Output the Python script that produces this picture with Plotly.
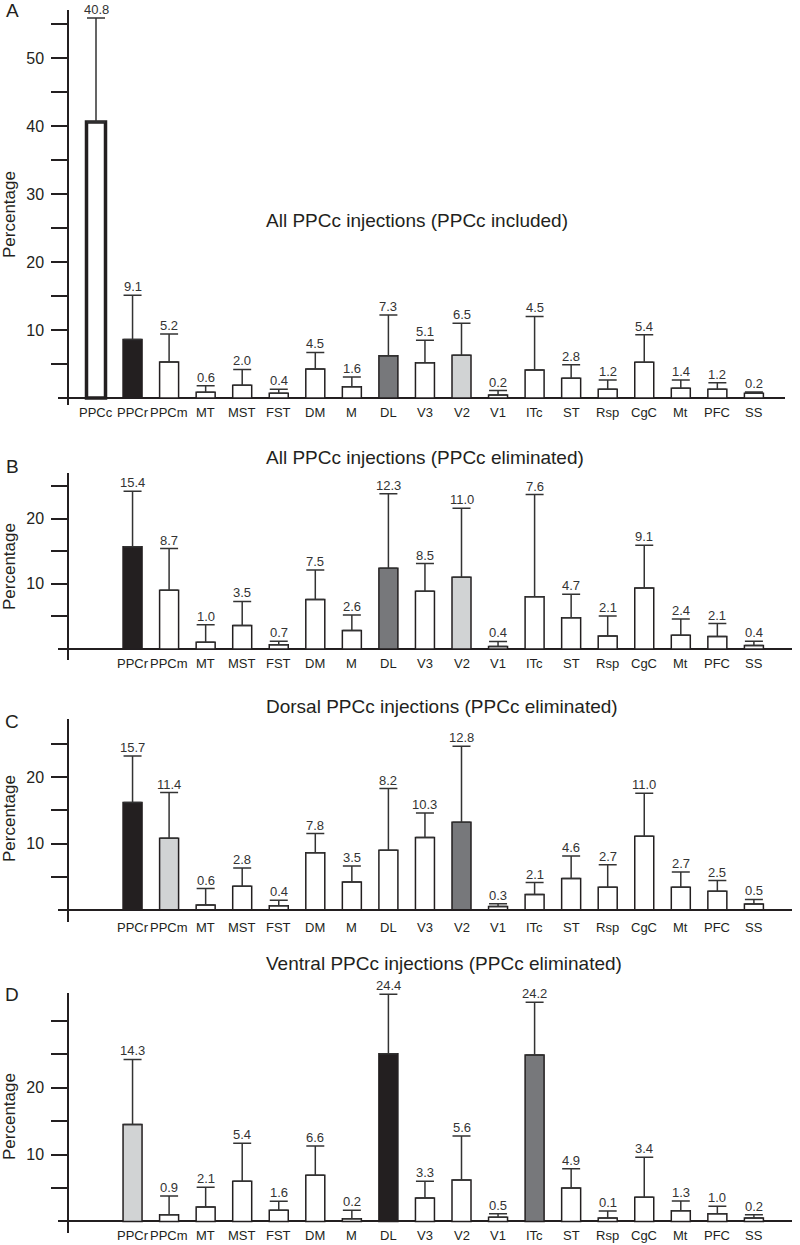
import plotly.graph_objects as go

# ---------------- data ----------------
regions_all = ["PPCc", "PPCr", "PPCm", "MT", "MST", "FST", "DM", "M", "DL", "V3",
               "V2", "V1", "ITc", "ST", "Rsp", "CgC", "Mt", "PFC", "SS"]
regions_elim = regions_all[1:]

# Panel A: All PPCc injections (PPCc included)
a_mean = [40.6, 8.6, 5.3, 0.84, 1.87, 0.7, 4.26, 1.66, 6.2, 5.2, 6.3, 0.45, 4.1, 2.9, 1.3, 5.25, 1.43, 1.3, 0.7]
a_err = [55.9, 15.1, 9.4, 1.8, 4.2, 1.3, 6.7, 3.1, 12.2, 8.5, 11.0, 1.1, 12.0, 4.9, 2.65, 9.3, 2.65, 2.25, 0.9]
a_labels = ["40.8", "9.1", "5.2", "0.6", "2.0", "0.4", "4.5", "1.6", "7.3", "5.1", "6.5", "0.2", "4.5", "2.8", "1.2", "5.4", "1.4", "1.2", "0.2"]

# Panel B: All PPCc injections (PPCc eliminated)
b_mean = [15.7, 9.0, 1.05, 3.6, 0.65, 7.6, 2.85, 12.4, 8.85, 11.0, 0.4, 8.0, 4.8, 2.0, 9.35, 2.1, 1.9, 0.55]
b_err = [24.2, 15.4, 3.7, 7.3, 1.2, 12.1, 5.2, 23.8, 13.1, 21.6, 1.15, 23.7, 8.4, 5.05, 15.9, 4.6, 3.9, 1.2]
b_labels = ["15.4", "8.7", "1.0", "3.5", "0.7", "7.5", "2.6", "12.3", "8.5", "11.0", "0.4", "7.6", "4.7", "2.1", "9.1", "2.4", "2.1", "0.4"]

# Panel C: Dorsal PPCc injections (PPCc eliminated)
c_mean = [16.2, 10.8, 0.7, 3.55, 0.6, 8.6, 4.2, 9.0, 10.9, 13.2, 0.5, 2.3, 4.7, 3.4, 11.1, 3.4, 2.8, 0.85]
c_err = [23.2, 17.7, 3.2, 6.3, 1.45, 11.5, 6.6, 18.3, 14.6, 24.7, 0.9, 4.1, 8.1, 6.8, 17.6, 5.7, 4.4, 1.55]
c_labels = ["15.7", "11.4", "0.6", "2.8", "0.4", "7.8", "3.5", "8.2", "10.3", "12.8", "0.3", "2.1", "4.6", "2.7", "11.0", "2.7", "2.5", "0.5"]

# Panel D: Ventral PPCc injections (PPCc eliminated)
d_mean = [14.5, 1.0, 2.15, 6.0, 1.65, 6.9, 0.4, 25.1, 3.5, 6.2, 0.6, 24.9, 5.0, 0.5, 3.6, 1.6, 1.15, 0.5]
d_err = [24.25, 3.8, 5.1, 11.7, 3.0, 11.3, 1.65, 34.0, 6.0, 12.8, 1.15, 32.8, 7.9, 1.55, 9.6, 3.05, 2.25, 1.0]
d_labels = ["14.3", "0.9", "2.1", "5.4", "1.6", "6.6", "0.2", "24.4", "3.3", "5.6", "0.5", "24.2", "4.9", "0.1", "3.4", "1.3", "1.0", "0.2"]

titles = ["All PPCc injections (PPCc included)",
          "All PPCc injections (PPCc eliminated)",
          "Dorsal PPCc injections (PPCc eliminated)",
          "Ventral PPCc injections (PPCc eliminated)"]
letters = ["A", "B", "C", "D"]

# ---------------- styles ----------------
FILL = {"w": "#ffffff", "k": "#231f20", "d": "#77787b", "l": "#d1d3d4"}
a_fill = ["w", "k", "w", "w", "w", "w", "w", "w", "d", "w", "l", "w", "w", "w", "w", "w", "w", "w", "w"]
b_fill = ["k", "w", "w", "w", "w", "w", "w", "d", "w", "l", "w", "w", "w", "w", "w", "w", "w", "w"]
c_fill = ["k", "l", "w", "w", "w", "w", "w", "w", "w", "d", "w", "w", "w", "w", "w", "w", "w", "w"]
d_fill = ["l", "w", "w", "w", "w", "w", "w", "k", "w", "w", "w", "d", "w", "w", "w", "w", "w", "w"]

INK = "#231f20"
FONT = "Liberation Sans, Arial, Helvetica, sans-serif"
W, H = 800, 1245


def fx(px):
    """page pixel x -> paper fraction"""
    return px / W


def fy(px):
    """page pixel y (from top) -> paper fraction"""
    return 1 - px / H


# pixel geometry per panel (page coordinates)
geom = [
    dict(top=10, bottom=405, ymin=-1.03, ymax=57.06, right=785, ty=221, ly=11, py=215, lab=413,
         majors=[10, 20, 30, 40, 50], minors=[5, 15, 25, 35, 45, 55]),
    dict(top=473, bottom=660, ymin=-1.69, ymax=27.0, right=792, ty=457, ly=466, py=567, lab=663,
         majors=[10, 20], minors=[5, 15, 25]),
    dict(top=719, bottom=922, ymin=-1.85, ymax=28.8, right=792, ty=706, ly=722, py=819, lab=927,
         majors=[10, 20], minors=[5, 15, 25]),
    dict(top=993, bottom=1233, ymin=-1.74, ymax=34.2, right=792, ty=963, ly=995, py=1117, lab=1235,
         majors=[10, 20], minors=[5, 15, 25, 30]),
]

panels = [
    (regions_all, a_mean, a_err, a_labels, a_fill),
    (regions_elim, b_mean, b_err, b_labels, b_fill),
    (regions_elim, c_mean, c_err, c_labels, c_fill),
    (regions_elim, d_mean, d_err, d_labels, d_fill),
]

X_LEFT = 58      # px, left end of baseline
Y_AXIS = 68      # px, y axis line
C0 = 96          # px centre of first category
STEP = 36.55     # px per category
LABEL_FS = 13

fig = go.Figure()
annotations = []
layout_axes = {}

for i, ((cats, mean, err, labels, fills), g) in enumerate(zip(panels, geom)):
    n = i + 1
    xname = "x" if n == 1 else f"x{n}"
    yname = "y" if n == 1 else f"y{n}"
    lw = [3.5 if (c == "PPCc") else 1.5 for c in cats]
    fig.add_trace(go.Bar(
        x=cats, y=mean, xaxis=xname, yaxis=yname, width=0.52,
        marker=dict(color=[FILL[f] for f in fills], line=dict(color=INK, width=lw)),
        error_y=dict(type="data", symmetric=False,
                     array=[e - m for e, m in zip(err, mean)],
                     arrayminus=[0] * len(mean),
                     width=9, thickness=1.5, color="#333333"),
        showlegend=False, hoverinfo="skip",
    ))
    for c, e, t in zip(cats, err, labels):
        annotations.append(dict(x=c, y=e, xref=xname, yref=yname, text=t, showarrow=False,
                                yanchor="bottom", yshift=-1,
                                font=dict(size=13, color="#333333", family=FONT)))
    # category labels, centred on each category below the baseline
    for c in cats:
        annotations.append(dict(x=c, y=fy(g["lab"]), xref=xname, yref="paper", text=c,
                                showarrow=False, yanchor="middle", xanchor="center",
                                font=dict(size=LABEL_FS, color=INK, family=FONT)))
    xl = -(C0 - X_LEFT) / STEP
    xr = 18 + (g["right"] - (C0 + 18 * STEP)) / STEP
    layout_axes["xaxis" if n == 1 else f"xaxis{n}"] = dict(
        domain=[fx(X_LEFT), fx(g["right"])], type="category",
        categoryorder="array", categoryarray=regions_all,
        range=[xl, xr], anchor=yname, showline=False, ticks="",
        showticklabels=False,
        showgrid=False, zeroline=False, fixedrange=True,
    )
    layout_axes["yaxis" if n == 1 else f"yaxis{n}"] = dict(
        domain=[fy(g["bottom"]), fy(g["top"])], range=[g["ymin"], g["ymax"]],
        anchor="free", position=fx(Y_AXIS),
        showline=True, linecolor=INK, linewidth=1.5,
        ticks="outside", ticklen=16, tickwidth=1.5, tickcolor=INK,
        tickmode="array", tickvals=g["majors"],
        tickfont=dict(size=16, color=INK, family=FONT),
        minor=dict(tickmode="array", tickvals=g["minors"], ticks="outside",
                   ticklen=16, tickwidth=1.5, tickcolor=INK, showgrid=False),
        showgrid=False, zeroline=True, zerolinecolor=INK, zerolinewidth=1.5,
        ticklabelstandoff=4, fixedrange=True,
    )
    annotations.append(dict(x=fx(264), y=fy(g["ty"]), xref="paper", yref="paper",
                            text=titles[i], showarrow=False, xanchor="left", yanchor="middle",
                            font=dict(size=19, color=INK, family=FONT)))
    annotations.append(dict(x=fx(12), y=fy(g["ly"]), xref="paper", yref="paper",
                            text=letters[i], showarrow=False, xanchor="center", yanchor="middle",
                            font=dict(size=19, color=INK, family=FONT)))
    annotations.append(dict(x=fx(9), y=fy(g["py"]), xref="paper", yref="paper",
                            text="Percentage", textangle=-90, showarrow=False,
                            xanchor="center", yanchor="middle",
                            font=dict(size=17, color=INK, family=FONT)))

fig.update_layout(
    width=W, height=H, margin=dict(l=0, r=0, t=0, b=0),
    paper_bgcolor="white", plot_bgcolor="white",
    font=dict(family=FONT, color=INK),
    annotations=annotations, bargap=0.48,
    **layout_axes,
)

# remove the default 8px page margin so the figure sits at the window origin
fig.write_html("out.html", config={"displayModeBar": False},
               post_script="document.body.style.margin='0px';")
